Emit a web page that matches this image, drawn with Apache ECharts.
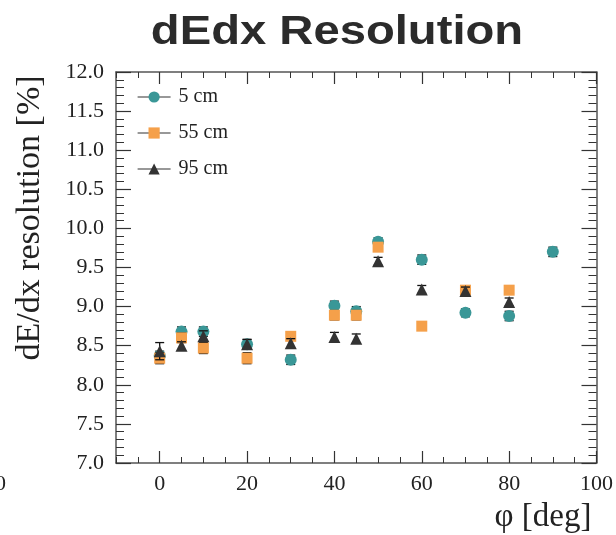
<!DOCTYPE html>
<html>
<head>
<meta charset="utf-8">
<script src="https://cdn.jsdelivr.net/npm/echarts@6/dist/echarts.min.js"></script>
<style>
html,body{margin:0;padding:0;background:#fff;}
#chart{width:616px;height:535px;}
</style>
</head>
<body>
<div id="chart"></div>
<script>
// ---- data ----
var phi5  = [0, 5, 10, 20, 30, 40, 45, 50, 60, 70, 80, 90];
var res5  = [8.37, 8.68, 8.68, 8.52, 8.32, 9.01, 8.94, 9.83, 9.60, 8.92, 8.88, 9.70];
var err5  = [0.06, 0.06, 0.06, 0.06, 0.06, 0.06, 0.06, 0.05, 0.06, 0.05, 0.06, 0.06];

var phi55 = [0, 5, 10, 20, 30, 40, 45, 50, 60, 70, 80];
var res55 = [8.34, 8.60, 8.47, 8.34, 8.62, 8.89, 8.89, 9.76, 8.75, 9.21, 9.21];
var err55 = [0.07, 0.06, 0.07, 0.07, 0.05, 0.06, 0.06, 0.05, 0.02, 0.05, 0.05];

var phi95 = [0, 5, 10, 20, 30, 40, 45, 50, 60, 70, 80];
var res95 = [8.43, 8.50, 8.62, 8.52, 8.53, 8.61, 8.59, 9.58, 9.22, 9.20, 9.06];
var err95 = [0.11, 0.05, 0.07, 0.06, 0.06, 0.06, 0.06, 0.05, 0.05, 0.05, 0.05];

var seriesNames = ['5 cm', '55 cm', '95 cm'];
var xMajorTicks = [0, 20, 40, 60, 80, 100];

var colors = ['#3a9797', '#f5a04a', '#333333'];
var symbols = ['circle', 'rect', 'triangle'];
var symbolSizes = [12, 11, 12];

var serif = '"Liberation Serif", "DejaVu Serif", serif';
var axisColor = '#555';

function zip(xs, ys, es) {
  return xs.map(function (x, i) { return [x, ys[i], es[i]]; });
}
var sets = [zip(phi5, res5, err5), zip(phi55, res55, err55), zip(phi95, res95, err95)];

function errRender(params, api) {
  var x = api.value(0), y = api.value(1), e = api.value(2);
  var top = api.coord([x, y + e]);
  var bot = api.coord([x, y - e]);
  var hw = 4.5;
  var st = { stroke: '#111', lineWidth: 1.3 };
  return {
    type: 'group',
    children: [
      { type: 'line', shape: { x1: top[0], y1: top[1], x2: bot[0], y2: bot[1] }, style: st },
      { type: 'line', shape: { x1: top[0] - hw, y1: top[1], x2: top[0] + hw, y2: top[1] }, style: st },
      { type: 'line', shape: { x1: bot[0] - hw, y1: bot[1], x2: bot[0] + hw, y2: bot[1] }, style: st }
    ]
  };
}

var series = [];
sets.forEach(function (d, i) {
  series.push({
    type: 'custom',
    name: seriesNames[i] + ' err',
    xAxisIndex: 0, yAxisIndex: 0,
    renderItem: errRender,
    data: d,
    z: 2 + i * 2,
    silent: true
  });
  series.push({
    type: 'line',
    name: seriesNames[i],
    xAxisIndex: 0, yAxisIndex: 0,
    data: d.map(function (p) { return [p[0], p[1]]; }),
    symbol: symbols[i],
    symbolSize: symbolSizes[i],
    showAllSymbol: true,
    itemStyle: { color: colors[i], opacity: 1 },
    lineStyle: { width: 0, opacity: 0 },
    z: 3 + i * 2,
    animation: false
  });
});

var chart = echarts.init(document.getElementById('chart'), null, { renderer: 'canvas' });
chart.setOption({
  animation: false,
  backgroundColor: '#fff',
  legend: {
    data: seriesNames,
    orient: 'vertical',
    left: 132, top: 82,
    itemWidth: 33, itemHeight: 14, itemGap: 16,
    textStyle: { fontFamily: serif, fontSize: 20, color: '#222', padding: [0, 0, 0, 3] },
    lineStyle: { color: '#333', width: 1.2, opacity: 1 },
    selectedMode: false
  },
  grid: { left: 116, right: 19, top: 72, bottom: 72, containLabel: false },
  xAxis: [
    {
      type: 'value', min: -10, max: 100, position: 'bottom',
      axisLine: { show: true, onZero: false, lineStyle: { color: axisColor, width: 1.5 } },
      axisTick: { show: true, inside: true, length: 12, customValues: xMajorTicks, lineStyle: { color: '#333', width: 1.2 } },
      axisLabel: { show: true, customValues: xMajorTicks, fontFamily: serif, fontSize: 22, color: '#222', margin: 10 },
      splitLine: { show: false },
      name: 'φ [deg]', nameLocation: 'end', nameGap: 0,
      nameTextStyle: { fontFamily: serif, fontSize: 33, color: '#222', align: 'right', verticalAlign: 'top', padding: [38, 5, 0, 0] }
    },
    {
      type: 'value', min: -10, max: 100, interval: 5, position: 'bottom',
      axisLine: { show: false },
      axisTick: { show: true, inside: true, length: 6, lineStyle: { color: '#333', width: 1 } },
      axisLabel: { show: false }, splitLine: { show: false }
    },
    {
      type: 'value', min: -10, max: 100, position: 'top',
      axisLine: { show: true, onZero: false, lineStyle: { color: axisColor, width: 1.5 } },
      axisTick: { show: true, inside: true, length: 12, customValues: xMajorTicks, lineStyle: { color: '#333', width: 1.2 } },
      axisLabel: { show: false }, splitLine: { show: false }
    },
    {
      type: 'value', min: -10, max: 100, interval: 5, position: 'top',
      axisLine: { show: false },
      axisTick: { show: true, inside: true, length: 6, lineStyle: { color: '#333', width: 1 } },
      axisLabel: { show: false }, splitLine: { show: false }
    }
  ],
  yAxis: [
    {
      type: 'value', min: 7, max: 12, interval: 0.5, position: 'left',
      axisLine: { show: true, onZero: false, lineStyle: { color: axisColor, width: 1.5 } },
      axisTick: { show: true, inside: true, length: 15, lineStyle: { color: '#333', width: 1.2 } },
      minorTick: { show: true, splitNumber: 5, length: 8, lineStyle: { color: '#333', width: 1 } },
      axisLabel: { fontFamily: serif, fontSize: 22, color: '#222', margin: 12,
        formatter: function (v) { return v.toFixed(1); } },
      splitLine: { show: false }, minorSplitLine: { show: false }
    },
    {
      type: 'value', min: 7, max: 12, interval: 0.5, position: 'right',
      axisLine: { show: true, onZero: false, lineStyle: { color: axisColor, width: 1.5 } },
      axisTick: { show: true, inside: true, length: 15, lineStyle: { color: '#333', width: 1.2 } },
      minorTick: { show: true, splitNumber: 5, length: 8, lineStyle: { color: '#333', width: 1 } },
      axisLabel: { show: false },
      splitLine: { show: false }, minorSplitLine: { show: false }
    }
  ],
  graphic: [
    {
      type: 'text', x: 337, y: 33, scaleX: 1.18,
      style: { text: 'dEdx Resolution', font: 'bold 40px "Liberation Sans", Arial, sans-serif', fill: '#2b2b2b', textAlign: 'center', textVerticalAlign: 'middle' }
    },
    {
      type: 'text', x: 30, y: 218, rotation: Math.PI / 2,
      style: { text: 'dE/dx resolution [%]', font: '34px ' + serif, fill: '#222', textAlign: 'center', textVerticalAlign: 'middle' }
    },
    {
      type: 'text', x: 6, y: 484,
      style: { text: '100', font: '22px ' + serif, fill: '#222', textAlign: 'right', textVerticalAlign: 'middle' }
    }
  ],
  series: series
});
</script>
</body>
</html>
